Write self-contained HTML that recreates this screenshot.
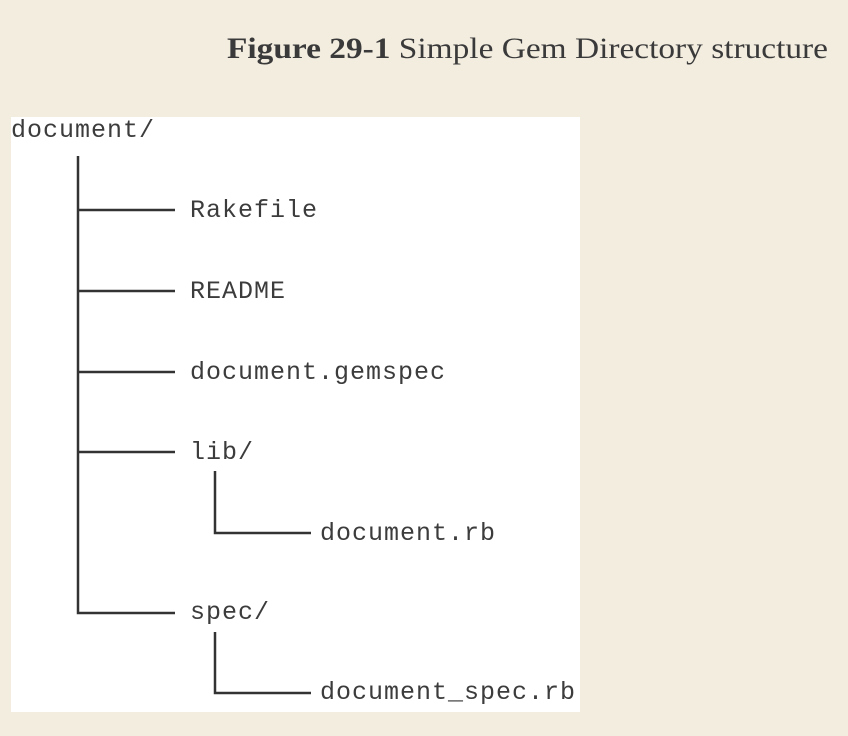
<!DOCTYPE html>
<html><head><style>html,body{margin:0;padding:0;background:#f3ede0;}</style></head>
<body>
<svg width="848" height="736" xmlns="http://www.w3.org/2000/svg" style="display:block">
<rect width="848" height="736" fill="#f3ede0"/>
<text x="227" y="58" font-family="Liberation Serif, serif" font-size="30" fill="#3a3a3a" textLength="601" lengthAdjust="spacingAndGlyphs"><tspan font-weight="bold">Figure 29-1</tspan> Simple Gem Directory structure</text>
<rect x="11" y="117" width="569" height="595" fill="#ffffff"/>
<g font-family="Liberation Mono, monospace" font-size="25" fill="#3c3c3c" letter-spacing="1">
<text x="11" y="137">document/</text>
<text x="190" y="217">Rakefile</text>
<text x="190" y="298">README</text>
<text x="190" y="379">document.gemspec</text>
<text x="190" y="459">lib/</text>
<text x="320" y="540">document.rb</text>
<text x="190" y="619">spec/</text>
<text x="320" y="699">document_spec.rb</text>
</g>
<g stroke="#333" stroke-width="2.5" fill="none">
<path d="M78 156 V613 H175"/>
<path d="M78 210 H175 M78 291 H175 M78 372 H175 M78 452 H175"/>
<path d="M215 471 V533 H311"/>
<path d="M215 632 V693 H311"/>
</g>
</svg>
</body></html>
